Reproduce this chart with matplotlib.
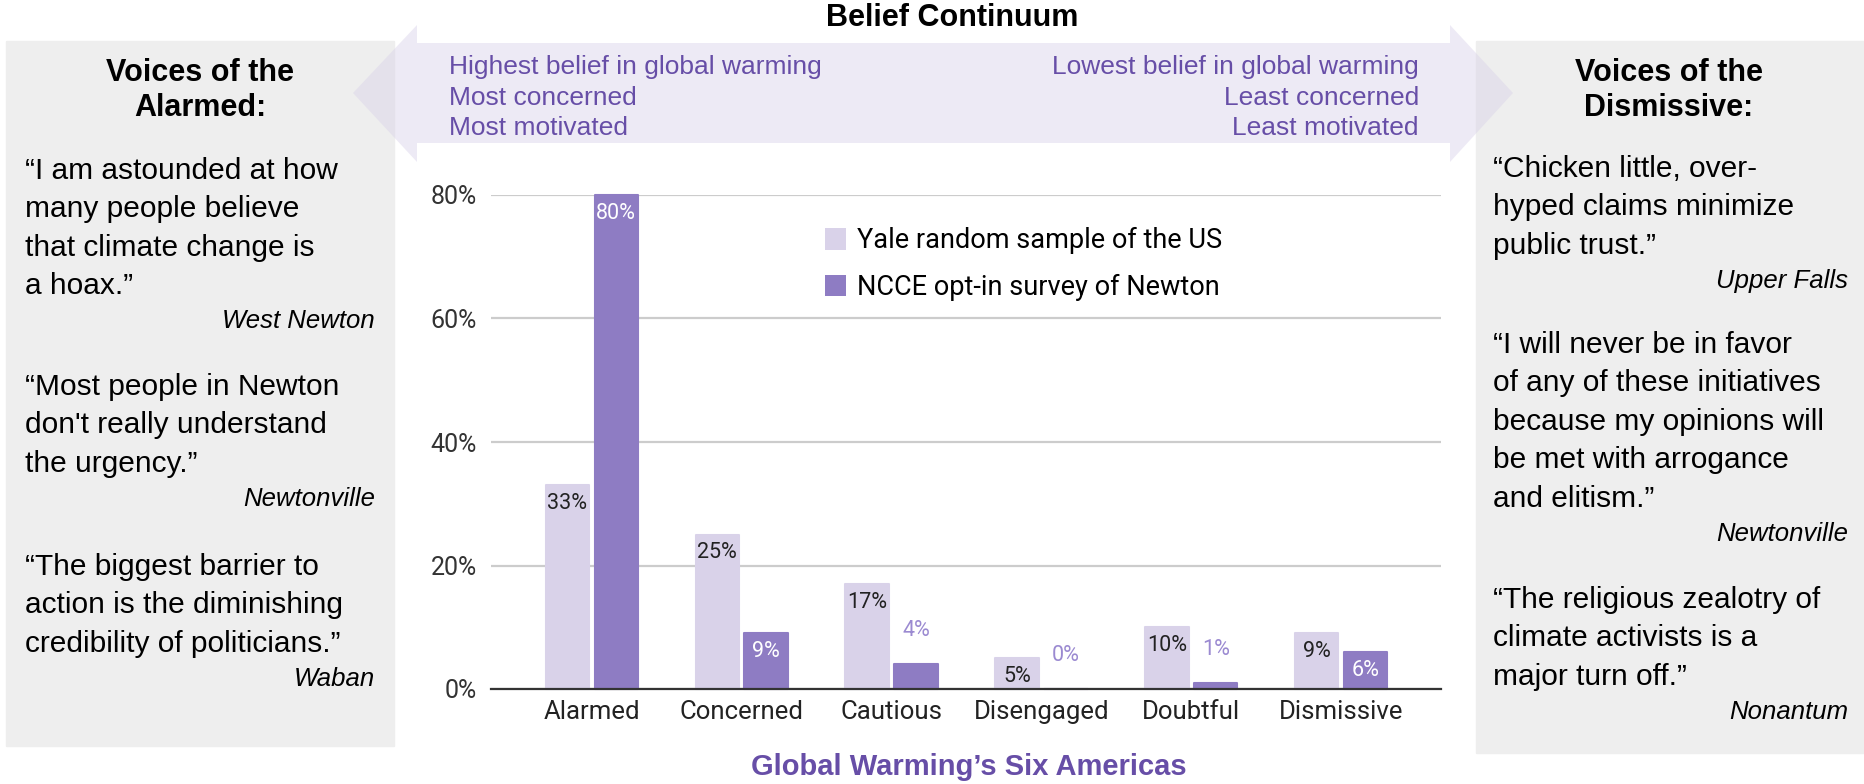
import numpy as np
import matplotlib
matplotlib.use("Agg")
import matplotlib.pyplot as plt
from matplotlib.patches import Rectangle, Polygon, Patch

# data
categories = ["Alarmed", "Concerned", "Cautious", "Disengaged", "Doubtful", "Dismissive"]
yale = [33, 25, 17, 5, 10, 9]
ncce = [80, 9, 4, 0, 1, 6]
series_names = ["Yale random sample of the US", "NCCE opt-in survey of Newton"]
yticks = [0, 20, 40, 60, 80]

left_quotes = [
    (["\u201cI am astounded at how", "many people believe", "that climate change is", "a hoax.\u201d"], "West Newton"),
    (["\u201cMost people in Newton", "don't really understand", "the urgency.\u201d"], "Newtonville"),
    (["\u201cThe biggest barrier to", "action is the diminishing", "credibility of politicians.\u201d"], "Waban"),
]
right_quotes = [
    (["\u201cChicken little, over-", "hyped claims minimize", "public trust.\u201d"], "Upper Falls"),
    (["\u201cI will never be in favor", "of any of these initiatives", "because my opinions will",
      "be met with arrogance", "and elitism.\u201d"], "Newtonville"),
    (["\u201cThe religious zealotry of", "climate activists is a", "major turn off.\u201d"], "Nonantum"),
]
high_lines = ["Highest belief in global warming", "Most concerned", "Most motivated"]
low_lines = ["Lowest belief in global warming", "Least concerned", "Least motivated"]

W, H = 1865, 784
LIGHT = "#D9D2E9"
DARK = "#8E7CC3"
PURPLE_TXT = "#674EA7"
SANS = ["Liberation Sans", "DejaVu Sans"]
CHART = ["Roboto", "DejaVu Sans"]

fig = plt.figure(figsize=(W / 100, H / 100), dpi=100)
bg = fig.add_axes([0, 0, 1, 1])
bg.set_xlim(0, W)
bg.set_ylim(H, 0)
bg.axis("off")

# grey side panels
bg.add_patch(Rectangle((6, 41), 388, 705, color="#EEEEEE", zorder=1))
bg.add_patch(Rectangle((1476, 41), 388, 712, color="#EEEEEE", zorder=1))

# double arrow
arrow = [(353, 93), (417, 25), (417, 43), (1450, 43), (1450, 25), (1513, 93),
         (1450, 162), (1450, 143), (417, 143), (417, 162)]
bg.add_patch(Polygon(arrow, closed=True, facecolor=LIGHT, alpha=0.45, edgecolor="none", zorder=2))

bg.text(952, 18, "Belief Continuum", ha="center", va="center", fontsize=22,
        fontweight="bold", family=SANS, zorder=3)

for i, s in enumerate(high_lines):
    bg.text(449, 67 + 30.5 * i, s, ha="left", va="center", fontsize=19,
            color=PURPLE_TXT, family=SANS, zorder=3)
for i, s in enumerate(low_lines):
    bg.text(1419, 67 + 30.5 * i, s, ha="right", va="center", fontsize=19,
            color=PURPLE_TXT, family=SANS, zorder=3)

# panel headers
for cx, second in [(200, "Alarmed:"), (1669, "Dismissive:")]:
    bg.text(cx, 73, "Voices of the", ha="center", va="center", fontsize=22,
            fontweight="bold", family=SANS, zorder=3)
    bg.text(cx, 108, second, ha="center", va="center", fontsize=22,
            fontweight="bold", family=SANS, zorder=3)


def quote_block(x_left, x_right, y0, lines, who):
    step = 38.4
    for k, ln in enumerate(lines):
        bg.text(x_left, y0 + step * k, ln, ha="left", va="center", fontsize=21.5,
                family=SANS, zorder=3)
    bg.text(x_right, y0 + step * (len(lines) - 1) + 35, who, ha="right", va="center",
            fontsize=18.5, style="italic", family=SANS, zorder=3)


for (lines, who), y0 in zip(left_quotes, [171, 387, 567]):
    quote_block(25, 375, y0, lines, who)
for (lines, who), y0 in zip(right_quotes, [169, 345, 600]):
    quote_block(1493, 1848, y0, lines, who)

bg.text(969, 767, "Global Warming\u2019s Six Americas", ha="center", va="center",
        fontsize=21, fontweight="bold", color=PURPLE_TXT, family=SANS, zorder=3)

# bar chart
ax = fig.add_axes([491 / W, (H - 689) / H, (1441 - 491) / W, (689 - 195) / H])
ax.set_facecolor("none")
x = np.arange(len(categories))
bw = 0.29
off = 0.163
ax.bar(x - off, yale, bw, color=LIGHT, edgecolor=LIGHT, lw=1.5, joinstyle="round",
       zorder=2, clip_on=False)
ax.bar(x + off, ncce, bw, color=DARK, edgecolor=DARK, lw=1.5, joinstyle="round",
       zorder=2, clip_on=False)

for xi, v in zip(x, yale):
    ax.annotate(f"{v}%", (xi - off, v), xytext=(0, -13), textcoords="offset points",
                ha="center", va="center", fontsize=15.5, color="#222222", family=CHART, zorder=3)
for xi, v in zip(x, ncce):
    if v >= 6:
        ax.annotate(f"{v}%", (xi + off, v), xytext=(0, -13), textcoords="offset points",
                    ha="center", va="center", fontsize=15.5, color="white", family=CHART, zorder=3)
    else:
        ax.annotate(f"{v}%", (xi + off, v), xytext=(0, 24), textcoords="offset points",
                    ha="center", va="center", fontsize=15.5, color="#9B8AD1", family=CHART, zorder=3)

ax.set_xlim(-0.673, 5.667)
ax.set_ylim(0, 80)
ax.set_yticks(yticks)
ax.set_yticklabels([f"{t}%" for t in yticks], family=CHART, fontsize=18, color="#333333")
ax.set_xticks(x)
ax.set_xticklabels(categories, family=CHART, fontsize=18.5, color="#222222")
ax.tick_params(axis="y", length=0, pad=10)
ax.tick_params(axis="x", length=0, pad=8)
ax.grid(axis="y", color="#CCCCCC", lw=1.6, zorder=0)
for sp in ["top", "right", "left"]:
    ax.spines[sp].set_visible(False)
ax.spines["bottom"].set_color("#333333")
ax.spines["bottom"].set_linewidth(1.6)
ax.spines["bottom"].set_zorder(4)

handles = [Patch(facecolor=LIGHT, edgecolor="none"), Patch(facecolor=DARK, edgecolor="none")]
ax.legend(handles, series_names, loc="upper left", bbox_to_anchor=(0.352, 0.935),
          frameon=False, prop={"family": CHART, "size": 19.5},
          handlelength=0.75, handleheight=0.85, handletextpad=0.42, labelspacing=0.72,
          borderaxespad=0, borderpad=0)

fig.savefig("out.png", dpi=100)
